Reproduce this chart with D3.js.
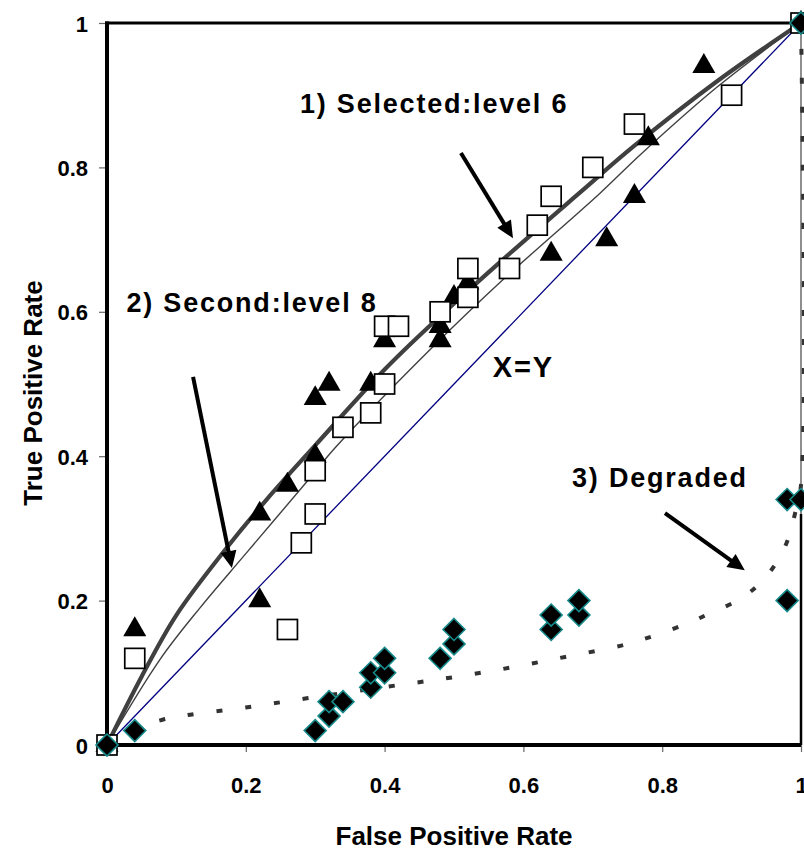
<!DOCTYPE html>
<html>
<head>
<meta charset="utf-8">
<script src="https://cdn.jsdelivr.net/npm/d3@7"></script>
<style>
  html, body { margin: 0; padding: 0; background: #fff; }
  svg { display: block; }
  text { font-family: "Liberation Sans", Arial, sans-serif; font-weight: bold; fill: #000; }
</style>
</head>
<body>
<svg id="chart" width="804" height="850"></svg>
<script>
// ---------- data ----------
const xTicks = [0, 0.2, 0.4, 0.6, 0.8, 1];
const yTicks = [0, 0.2, 0.4, 0.6, 0.8, 1];
const xTickLabels = ["0", "0.2", "0.4", "0.6", "0.8", "1"];
const yTickLabels = ["0", "0.2", "0.4", "0.6", "0.8", "1"];

// Open squares
const squarePoints = [
  [0, 0], [0.04, 0.12], [0.26, 0.16], [0.28, 0.28], [0.30, 0.32], [0.30, 0.38],
  [0.34, 0.44], [0.38, 0.46], [0.40, 0.50], [0.40, 0.58], [0.42, 0.58], [0.48, 0.60],
  [0.52, 0.62], [0.52, 0.66], [0.58, 0.66], [0.62, 0.72], [0.64, 0.76], [0.70, 0.80],
  [0.76, 0.86], [0.90, 0.90], [1, 1]
];
// Filled triangles
const trianglePoints = [
  [0, 0], [0.04, 0.16], [0.22, 0.20], [0.22, 0.32], [0.26, 0.36], [0.30, 0.40],
  [0.30, 0.48], [0.32, 0.50], [0.38, 0.50], [0.40, 0.56], [0.48, 0.56], [0.48, 0.58],
  [0.50, 0.62], [0.52, 0.64], [0.64, 0.68], [0.72, 0.70], [0.76, 0.76], [0.78, 0.84],
  [0.86, 0.94], [1, 1]
];
// Diamonds (degraded)
const diamondPoints = [
  [0, 0], [0.04, 0.02], [0.30, 0.02], [0.32, 0.04], [0.32, 0.06], [0.34, 0.06],
  [0.38, 0.08], [0.38, 0.10], [0.40, 0.10], [0.40, 0.12], [0.48, 0.12], [0.50, 0.14],
  [0.50, 0.16], [0.64, 0.16], [0.64, 0.18], [0.68, 0.18], [0.68, 0.20], [0.98, 0.20],
  [0.98, 0.34], [1, 0.34], [1, 1]
];
// 1) Selected: level 6 (thick curve)
const selectedCurve = [
  [0, 0], [0.05, 0.095], [0.10, 0.18], [0.17, 0.27], [0.23, 0.34],
  [0.30, 0.415], [0.40, 0.52], [0.47, 0.585], [0.57, 0.672], [0.68, 0.764],
  [0.76, 0.83], [0.88, 0.92], [1, 1]
];
// 2) Second: level 8 (thin curve)
const secondCurve = [
  [0, 0], [0.076, 0.118], [0.134, 0.19], [0.20, 0.265], [0.29, 0.367],
  [0.33, 0.413], [0.47, 0.552], [0.57, 0.644], [0.71, 0.764], [0.77, 0.819],
  [0.88, 0.912], [1, 1]
];
// X=Y diagonal
const diagonalLine = [[0, 0], [1, 1]];
// 3) Degraded (dashed curve)
const degradedCurve = [
  [0, 0], [0.04, 0.022], [0.08, 0.035], [0.12, 0.042], [0.20, 0.052], [0.29, 0.065],
  [0.42, 0.083], [0.50, 0.094], [0.58, 0.107], [0.66, 0.122], [0.75, 0.14],
  [0.83, 0.166], [0.87, 0.183], [0.917, 0.205], [0.953, 0.237], [0.978, 0.277],
  [0.991, 0.319], [1, 0.36], [1, 1]
];

// annotations: [label, x, y, size] in data coordinates (text start, baseline)
const annotations = [
  ["1) Selected:level 6", 0.278, 0.875, 27],
  ["2) Second:level 8", 0.028, 0.60, 27],
  ["X=Y", 0.556, 0.51, 29],
  ["3) Degraded", 0.67, 0.358, 27]
];
// arrows: [tailX, tailY, tipX, tipY] in data coordinates
const arrows = [
  [0.51, 0.82, 0.585, 0.702],
  [0.124, 0.51, 0.18, 0.245],
  [0.804, 0.321, 0.919, 0.242]
];

// ---------- chart ----------
const svg = d3.select("#chart");
const x = d3.scaleLinear().domain([0, 1]).range([107, 801]);
const y = d3.scaleLinear().domain([0, 1]).range([745, 23]);

const xAxis = d3.axisBottom(x).tickValues(xTicks).tickSize(7).tickFormat((d, i) => xTickLabels[i]);
const yAxis = d3.axisLeft(y).tickValues(yTicks).tickSize(8).tickFormat((d, i) => yTickLabels[i]);

const gx = svg.append("g").attr("transform", `translate(0,${y(0)})`).call(xAxis);
gx.select(".domain").remove();
gx.selectAll(".tick line").attr("stroke", "#666").attr("stroke-width", 1.2);
gx.selectAll(".tick text")
  .attr("font-size", 22).attr("font-family", "Liberation Sans, Arial, sans-serif")
  .attr("font-weight", "bold").attr("fill", "#000")
  .attr("y", 48).attr("dy", 0);

const gy = svg.append("g").attr("transform", `translate(${x(0)},0)`).call(yAxis);
gy.select(".domain").remove();
gy.selectAll(".tick line").attr("stroke", "#666").attr("stroke-width", 1.2);
gy.selectAll(".tick text")
  .attr("font-size", 22).attr("font-family", "Liberation Sans, Arial, sans-serif")
  .attr("font-weight", "bold").attr("fill", "#000")
  .attr("x", -19).attr("dy", 8);

// plot border (right side)
svg.append("line").attr("x1", x(1)).attr("x2", x(1)).attr("y1", y(0)).attr("y2", y(1))
  .attr("stroke", "#444").attr("stroke-width", 1.2);
svg.append("line").attr("x1", x(1)).attr("x2", x(1)).attr("y1", y(0)).attr("y2", y(0.32))
  .attr("stroke", "#000").attr("stroke-width", 2.5);

const line = d3.line().x(d => x(d[0])).y(d => y(d[1]));
const curveLine = d3.line().x(d => x(d[0])).y(d => y(d[1])).curve(d3.curveCatmullRom.alpha(0.5));

// curves
svg.append("path").datum(diagonalLine).attr("d", line)
  .attr("fill", "none").attr("stroke", "#000080").attr("stroke-width", 1.3);
svg.append("path").datum(secondCurve).attr("d", curveLine)
  .attr("fill", "none").attr("stroke", "#404040").attr("stroke-width", 1.4);
svg.append("path").datum(selectedCurve).attr("d", curveLine)
  .attr("fill", "none").attr("stroke", "#404040").attr("stroke-width", 4.2);
svg.append("path").datum(degradedCurve).attr("d", curveLine)
  .attr("fill", "none").attr("stroke", "#333").attr("stroke-width", 4)
  .attr("stroke-dasharray", "6,23");

// axis lines (thick)
svg.append("line").attr("x1", x(0)).attr("x2", x(0)).attr("y1", y(1) - 1.5).attr("y2", y(0) + 2)
  .attr("stroke", "#000").attr("stroke-width", 4);
svg.append("line").attr("x1", x(0) - 2).attr("x2", x(1)).attr("y1", y(0)).attr("y2", y(0))
  .attr("stroke", "#000").attr("stroke-width", 4);
svg.append("line").attr("x1", x(0) - 2).attr("x2", x(1)).attr("y1", y(1)).attr("y2", y(1))
  .attr("stroke", "#000").attr("stroke-width", 3);

// markers
const triSym = d3.symbol().type(d3.symbolTriangle).size(230);
svg.append("g").selectAll("path").data(trianglePoints).join("path")
  .attr("d", triSym)
  .attr("transform", d => `translate(${x(d[0])},${y(d[1])})`)
  .attr("fill", "#000");

svg.append("g").selectAll("rect").data(squarePoints).join("rect")
  .attr("x", d => x(d[0]) - 10).attr("y", d => y(d[1]) - 10)
  .attr("width", 20).attr("height", 20)
  .attr("fill", "#fff").attr("stroke", "#000").attr("stroke-width", 1.7);

svg.append("g").selectAll("path").data(diamondPoints).join("path")
  .attr("d", "M0,-11L11,0L0,11L-11,0Z")
  .attr("transform", d => `translate(${x(d[0])},${y(d[1])})`)
  .attr("fill", "#000").attr("stroke", "#178a8a").attr("stroke-width", 1.6);

// annotations
svg.append("g").selectAll("text").data(annotations).join("text")
  .attr("x", d => x(d[1])).attr("y", d => y(d[2]))
  .attr("font-size", d => d[3])
  .attr("letter-spacing", 1.8)
  .text(d => d[0]);

// arrows
const ag = svg.append("g");
arrows.forEach(a => {
  const x1 = x(a[0]), y1 = y(a[1]), x2 = x(a[2]), y2 = y(a[3]);
  const dx = x2 - x1, dy = y2 - y1, L = Math.hypot(dx, dy);
  const ux = dx / L, uy = dy / L;
  const headLen = 17, headW = 8;
  const bx = x2 - ux * headLen, by = y2 - uy * headLen;
  ag.append("line").attr("x1", x1).attr("y1", y1).attr("x2", bx + ux * 2).attr("y2", by + uy * 2)
    .attr("stroke", "#000").attr("stroke-width", 4);
  ag.append("path")
    .attr("d", `M${x2},${y2}L${bx - uy * headW},${by + ux * headW}L${bx + uy * headW},${by - ux * headW}Z`)
    .attr("fill", "#000");
});

// axis titles
svg.append("text").attr("x", x(0.5)).attr("y", 845).attr("text-anchor", "middle")
  .attr("font-size", 26).text("False Positive Rate");
svg.append("text").attr("transform", `translate(42,${393}) rotate(-90)`).attr("text-anchor", "middle")
  .attr("font-size", 26).text("True Positive Rate");
</script>
</body>
</html>
